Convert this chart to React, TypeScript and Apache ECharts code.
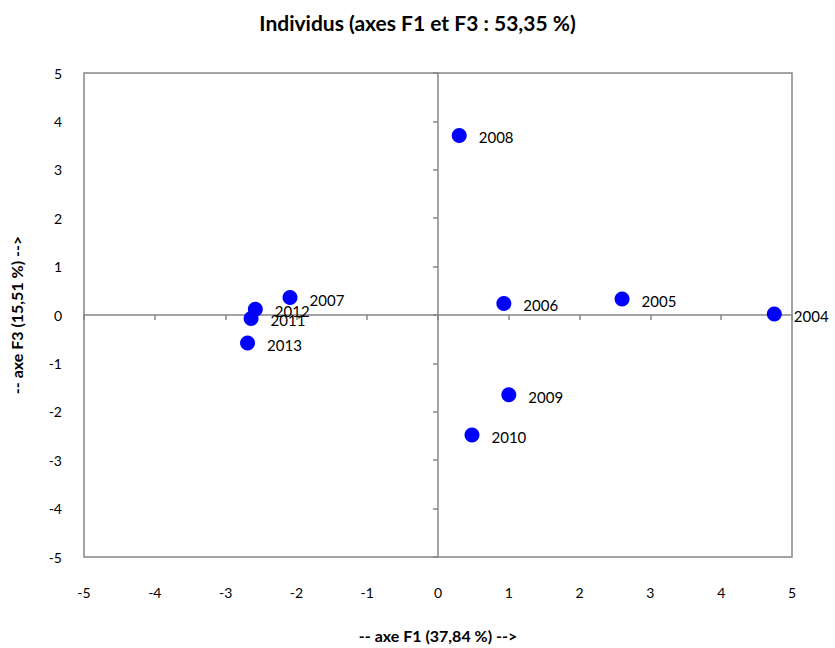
import React, { useEffect, useRef } from "react";
import * as echarts from "echarts";

const years = ["2004", "2005", "2006", "2007", "2008", "2009", "2010", "2011", "2012", "2013"];
const f1 = [4.75, 2.6, 0.93, -2.09, 0.3, 1.0, 0.48, -2.64, -2.58, -2.69];
const f3 = [0.02, 0.33, 0.24, 0.36, 3.71, -1.65, -2.48, -0.07, 0.12, -0.58];
const ticks = [-5, -4, -3, -2, -1, 0, 1, 2, 3, 4, 5];

const FONT = "Lato, 'Open Sans', sans-serif";
const GRAY = "#868686";

export default function App() {
  const ref = useRef<HTMLDivElement>(null);
  useEffect(() => {
    if (!ref.current) return;
    const chart = echarts.init(ref.current, undefined, { renderer: "svg" });
    const data = years.map((y, i) => ({ value: [f1[i], f3[i]], name: y }));
    chart.setOption({
      animation: false,
      backgroundColor: "#ffffff",
      title: {
        text: "Individus (axes F1 et F3 : 53,35 %)",
        left: "center",
        top: 7,
        textStyle: { fontFamily: FONT, fontSize: 21, fontWeight: "bold", color: "#000" },
      },
      grid: {
        left: 84,
        top: 73,
        right: 43,
        bottom: 90,
        show: true,
        borderColor: GRAY,
        borderWidth: 1.5,
        backgroundColor: "transparent",
      },
      xAxis: [
        {
          type: "value",
          min: ticks[0],
          max: ticks[ticks.length - 1],
          interval: 1,
          position: "bottom",
          axisLine: { show: false, onZero: false },
          axisTick: { show: false },
          splitLine: { show: false },
          axisLabel: { fontFamily: FONT, fontSize: 14, color: "#000", margin: 28 },
          name: "-- axe F1 (37,84 %) -->",
          nameLocation: "middle",
          nameGap: 70,
          nameTextStyle: { fontFamily: FONT, fontSize: 16, fontWeight: "bold", color: "#000" },
        },
        {
          type: "value",
          min: ticks[0],
          max: ticks[ticks.length - 1],
          interval: 1,
          position: "bottom",
          axisLine: { show: true, onZero: true, lineStyle: { color: GRAY, width: 1.5 } },
          axisTick: { show: true, length: 5, lineStyle: { color: GRAY, width: 1.5 } },
          splitLine: { show: false },
          axisLabel: { show: false },
        },
      ],
      yAxis: [
        {
          type: "value",
          min: ticks[0],
          max: ticks[ticks.length - 1],
          interval: 1,
          position: "left",
          axisLine: { show: false, onZero: false },
          axisTick: { show: false },
          splitLine: { show: false },
          axisLabel: { fontFamily: FONT, fontSize: 14, color: "#000", margin: 22 },
          name: "-- axe F3 (15,51 %) -->",
          nameLocation: "middle",
          nameGap: 60,
          nameTextStyle: { fontFamily: FONT, fontSize: 16, fontWeight: "bold", color: "#000" },
        },
        {
          type: "value",
          min: ticks[0],
          max: ticks[ticks.length - 1],
          interval: 1,
          position: "left",
          axisLine: { show: true, onZero: true, lineStyle: { color: GRAY, width: 1.5 } },
          axisTick: { show: true, length: 5, lineStyle: { color: GRAY, width: 1.5 } },
          splitLine: { show: false },
          axisLabel: { show: false },
        },
      ],
      series: [
        {
          type: "scatter",
          xAxisIndex: 0,
          yAxisIndex: 0,
          data,
          symbol: "circle",
          symbolSize: 15,
          itemStyle: { color: "#0000ff", opacity: 1 },
          label: {
            show: true,
            position: "right",
            distance: 12,
            formatter: (p: any) => p.name,
            fontFamily: FONT,
            fontSize: 15,
            color: "#000",
            offset: [0, 2],
          },
          z: 5,
        },
      ],
    });
    return () => chart.dispose();
  }, []);
  return <div ref={ref} style={{ width: 835, height: 648, position: "absolute", left: 0, top: 0 }} />;
}
